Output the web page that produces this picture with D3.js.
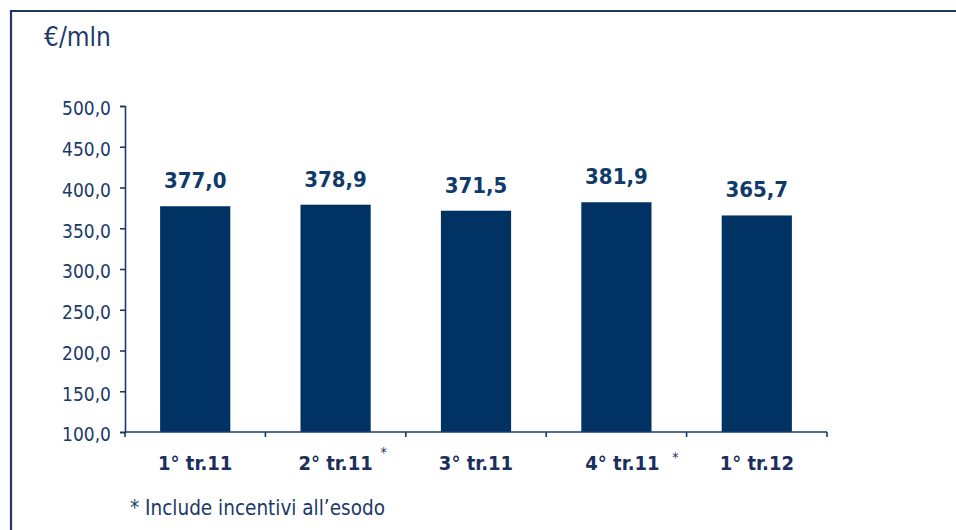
<!DOCTYPE html>
<html><head><meta charset="utf-8">
<script src="https://cdn.jsdelivr.net/npm/d3@7"></script>
<style>body{margin:0;background:#fff}svg{display:block}</style>
</head><body>
<script>
const categories = ["1° tr.11", "2° tr.11", "3° tr.11", "4° tr.11", "1° tr.12"];
const values = [377.0, 378.9, 371.5, 381.9, 365.7];
const starred = [false, true, false, true, false];
const yTicks = [100, 150, 200, 250, 300, 350, 400, 450, 500];
const unitLabel = "€/mln";
const footnote = "* Include incentivi all\u2019esodo";

const W = 956, H = 530;
const svg = d3.select("body").append("svg").attr("width", W).attr("height", H);
const font = "'DejaVu Sans Condensed', 'DejaVu Sans', Verdana, sans-serif";
const navy = "#003263";
const textCol = "#1c3a68";

function styleText(sel, size, bold) {
  sel.attr("font-family", font).attr("font-size", size)
    .style("font-stretch", "condensed")
    .attr("font-weight", bold ? "bold" : "normal");
}

// frame
svg.append("path").attr("d", `M11,${H} L11,11 L${W},11`).attr("fill", "none")
  .attr("stroke", "#1f3864").attr("stroke-width", 2.2);

const x = d3.scaleBand().domain(categories).range([125, 827]).paddingInner(0.5).paddingOuter(0.25);
const y = d3.scaleLinear().domain([100, 500]).range([432, 106]);

// bars
svg.selectAll("rect.bar").data(values).enter().append("rect")
  .attr("x", (d, i) => x(categories[i]))
  .attr("width", x.bandwidth())
  .attr("y", d => y(d))
  .attr("height", d => y(100) - y(d))
  .attr("fill", navy);

// y axis
const yAxis = svg.append("g").attr("transform", "translate(125,0)")
  .call(d3.axisLeft(y).tickValues(yTicks).tickSize(5).tickPadding(9)
    .tickFormat(d => d3.format(".1f")(d).replace(".", ",")));
yAxis.select(".domain").attr("stroke", "#1a3a6b").attr("stroke-width", 1.6);
yAxis.selectAll(".tick line").attr("stroke", "#1a3a6b").attr("stroke-width", 1.6);
styleText(yAxis.selectAll("text"), 19, false);
yAxis.selectAll("text").attr("fill", textCol).attr("dy", "0.47em");

// x axis line with boundary ticks
const xBounds = d3.range(categories.length + 1).map(i => 125 + i * (702 / categories.length));
svg.append("line").attr("x1", 125).attr("x2", 827).attr("y1", y(100)).attr("y2", y(100))
  .attr("stroke", "#1a3a6b").attr("stroke-width", 1.6);
svg.selectAll("line.xt").data(xBounds).enter().append("line")
  .attr("x1", d => d).attr("x2", d => d).attr("y1", y(100)).attr("y2", y(100) + 5)
  .attr("stroke", "#1a3a6b").attr("stroke-width", 1.6);

// category labels (4th label sits slightly right in the original)
const catShift = i => (i === 3 ? 6 : 0);
const starShift = i => (i === 3 ? 59 : 48);
const cats = svg.selectAll("text.cat").data(categories).enter().append("text")
  .attr("x", (d, i) => x(d) + x.bandwidth() / 2 + catShift(i))
  .attr("y", 470)
  .attr("text-anchor", "middle")
  .attr("fill", "#1a2f5e")
  .text(d => d);
styleText(cats, 20, true);

// asterisks
const stars = svg.selectAll("text.star")
  .data(categories.map((c, i) => ({ c, i })).filter(o => starred[o.i]))
  .enter().append("text")
  .attr("x", o => x(o.c) + x.bandwidth() / 2 + starShift(o.i))
  .attr("y", o => (o.i === 3 ? 462 : 457))
  .attr("text-anchor", "middle")
  .attr("fill", "#1a2f5e")
  .text("*");
styleText(stars, 14, false);

// value labels
const vals = svg.selectAll("text.val").data(values).enter().append("text")
  .attr("x", (d, i) => x(categories[i]) + x.bandwidth() / 2)
  .attr("y", d => y(d) - 18)
  .attr("text-anchor", "middle")
  .attr("fill", "#0f3a6a")
  .text(d => d3.format(".1f")(d).replace(".", ","));
styleText(vals, 22, true);

// unit label
const ul = svg.append("text").attr("x", 44).attr("y", 46)
  .attr("fill", "#1c3a68")
  .text(unitLabel);
styleText(ul, 26, false);

// footnote
const fn = svg.append("text").attr("x", 130).attr("y", 515)
  .attr("fill", "#1c3a68")
  .text(footnote);
styleText(fn, 20.5, false);
</script>
</body></html>
